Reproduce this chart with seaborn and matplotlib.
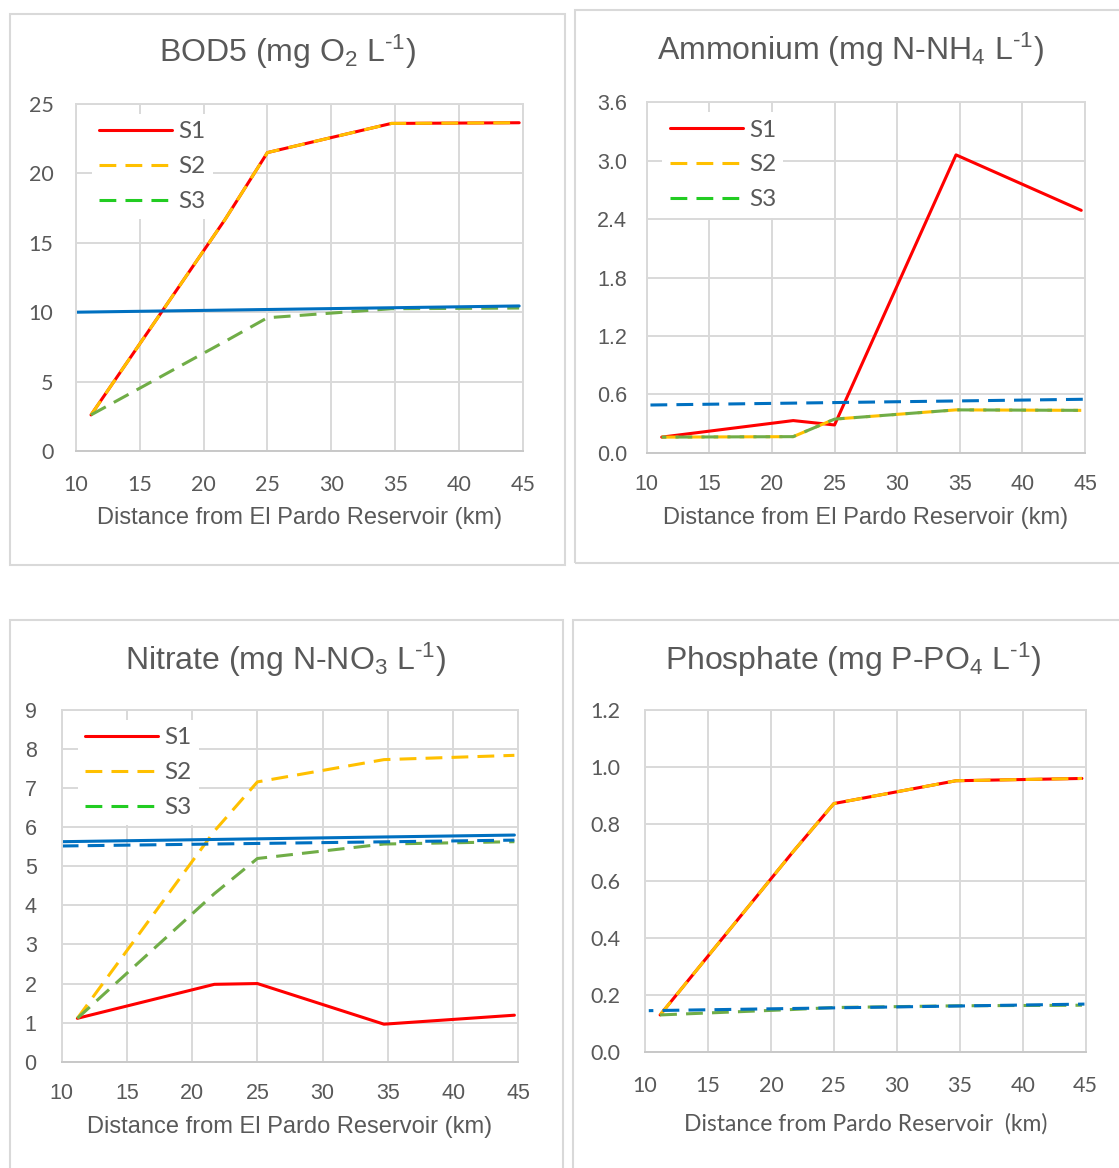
import matplotlib.pyplot as plt
import numpy as np
import pandas as pd
import seaborn as sns
from matplotlib.lines import Line2D
from matplotlib.patches import Rectangle

# distance of the sampling points (km)
dist_km = [11.2, 21.7, 25.0, 34.7, 44.7]

# BOD5 (mg O2/L)
bod_s1 = [2.6, 16.7, 21.5, 23.6, 23.65]
bod_s2 = [2.6, 16.7, 21.5, 23.6, 23.65]
bod_s3 = [2.6, 7.9, 9.6, 10.25, 10.3]
bod_lim_x = [10.0, 44.7]
bod_lim = [10.0, 10.45]

# Ammonium (mg N-NH4/L)
nh4_s1 = [0.16, 0.33, 0.285, 3.06, 2.49]
nh4_s2 = [0.16, 0.165, 0.345, 0.44, 0.435]
nh4_s3 = [0.16, 0.165, 0.345, 0.44, 0.435]
nh4_lim_x = [10.3, 45.5]
nh4_lim = [0.49, 0.55]

# Nitrate (mg N-NO3/L)
no3_s1 = [1.11, 1.98, 2.0, 0.96, 1.19]
no3_s2 = [1.11, 5.9, 7.16, 7.73, 7.84]
no3_s3 = [1.11, 4.3, 5.2, 5.57, 5.63]
no3_lim_x = [10.0, 44.7]
no3_lim_a = [5.63, 5.8]
no3_lim_b = [5.52, 5.67]

# Phosphate (mg P-PO4/L)
po4_s1 = [0.131, 0.70, 0.872, 0.952, 0.96]
po4_s2 = [0.131, 0.70, 0.872, 0.952, 0.96]
po4_s3 = [0.131, 0.15, 0.157, 0.163, 0.165]
po4_lim_x = [10.3, 44.9]
po4_lim = [0.146, 0.169]

x_ticks = [10, 15, 20, 25, 30, 35, 40, 45]
series_names = ["S1", "S2", "S3"]

RED = "#FF0000"
ORANGE = "#FFC000"
GREEN = "#70AD47"
GREEN_LEG = "#22CC22"
BLUE = "#0070C0"
GREY_TXT = "#595959"
GRID = "#D9D9D9"
DASH = (0, (5.5, 3))
DASH2 = (4, (5.5, 3))
LW = 2.2

sns.set_style("white")
plt.rcParams["mathtext.default"] = "regular"

W, H = 1119, 1168
fig = plt.figure(figsize=(W / 100, H / 100), dpi=100)


def px_rect(l, t, r, b):
    return [l / W, 1 - b / H, (r - l) / W, (b - t) / H]


# chart-area boxes like the Excel charts
for l, t, r, b in [(10, 14, 565, 565), (575, 10, 1130, 563),
                   (10, 620, 563, 1180), (573, 620, 1130, 1180)]:
    fig.add_artist(Rectangle((l / W, 1 - b / H), (r - l) / W, (b - t) / H,
                             transform=fig.transFigure, fill=False,
                             edgecolor=GRID, lw=1.5))


def style_axes(ax, ylim, yticks, yfmt, tick_font, xpad, ypad, xlabel,
               xlabel_font, labelpad, xlabel_size=17):
    ax.set_xlim(10, 45)
    ax.set_ylim(*ylim)
    ax.set_xticks(x_ticks, [str(t) for t in x_ticks], fontfamily=tick_font)
    ax.set_yticks(yticks, [yfmt.format(v) for v in yticks], fontfamily=tick_font)
    ax.tick_params(length=0, labelsize=15.5, labelcolor=GREY_TXT)
    ax.tick_params(axis="x", pad=xpad)
    ax.tick_params(axis="y", pad=ypad)
    ax.grid(True, color=GRID, lw=1.4)
    ax.set_axisbelow(True)
    for sp in ax.spines.values():
        sp.set_color(GRID)
        sp.set_linewidth(1.4)
    ax.spines["bottom"].set_color("#C8C8C8")
    ax.set_xlabel(xlabel, fontsize=xlabel_size, color=GREY_TXT,
                  family=xlabel_font, labelpad=labelpad)
    ax.set_ylabel("")


def add_legend(ax, axes_h):
    handles = [Line2D([], [], color=RED, lw=LW),
               Line2D([], [], color=ORANGE, lw=LW, ls=DASH),
               Line2D([], [], color=GREEN_LEG, lw=LW, ls=DASH)]
    leg = ax.legend(handles, series_names, loc="upper left",
                    bbox_to_anchor=(0.036, 1 - 10 / axes_h), borderaxespad=0,
                    frameon=True, facecolor="white", edgecolor="none",
                    framealpha=1, fancybox=False, handlelength=3.0,
                    handletextpad=0.25, labelspacing=0.57, borderpad=0.3,
                    prop={"family": "Lato", "size": 17.5})
    for t in leg.get_texts():
        t.set_color(GREY_TXT)


def line(ax, x, y, color, ls="-", clip=True):
    sns.lineplot(x=x, y=y, ax=ax, color=color, lw=LW, linestyle=ls,
                 legend=False, errorbar=None, clip_on=clip)


# ---- BOD5
ax1 = fig.add_axes(px_rect(75.7, 104, 523, 451))
line(ax1, dist_km, bod_s1, RED)
line(ax1, dist_km, bod_s2, ORANGE, DASH)
line(ax1, dist_km, bod_s3, GREEN, DASH)
line(ax1, bod_lim_x, bod_lim, BLUE)
style_axes(ax1, (0, 25), [0, 5, 10, 15, 20, 25], "{:d}", "Lato", 17, 16,
           "Distance from El Pardo Reservoir (km)", "Liberation Sans", 9)
add_legend(ax1, 347)

# ---- Ammonium
ax2 = fig.add_axes(px_rect(646.7, 102.3, 1085, 452.7))
line(ax2, dist_km, nh4_s1, RED)
line(ax2, dist_km, nh4_s2, ORANGE, DASH)
line(ax2, dist_km, nh4_s3, GREEN, DASH2)
line(ax2, nh4_lim_x, nh4_lim, BLUE, DASH, clip=False)
style_axes(ax2, (0, 3.6), [0, 0.6, 1.2, 1.8, 2.4, 3.0, 3.6], "{:.1f}",
           "Liberation Sans", 15, 14,
           "Distance from El Pardo Reservoir (km)", "Liberation Sans", 9)
add_legend(ax2, 350.4)

# ---- Nitrate
ax3 = fig.add_axes(px_rect(61.7, 710, 518.3, 1061.7))
line(ax3, dist_km, no3_s1, RED)
line(ax3, dist_km, no3_s2, ORANGE, DASH)
line(ax3, dist_km, no3_s3, GREEN, DASH)
line(ax3, no3_lim_x, no3_lim_a, BLUE)
line(ax3, no3_lim_x, no3_lim_b, BLUE, DASH)
style_axes(ax3, (0, 9), list(range(10)), "{:d}", "Liberation Sans", 15, 18,
           "Distance from El Pardo Reservoir (km)", "Liberation Sans", 9)
add_legend(ax3, 351.7)

# ---- Phosphate
ax4 = fig.add_axes(px_rect(645, 710, 1085.7, 1052.3))
line(ax4, dist_km, po4_s1, RED)
line(ax4, dist_km, po4_s2, ORANGE, DASH)
line(ax4, dist_km, po4_s3, GREEN, DASH)
line(ax4, po4_lim_x, po4_lim, BLUE, DASH2)
style_axes(ax4, (0, 1.2), [0, 0.2, 0.4, 0.6, 0.8, 1.0, 1.2], "{:.1f}",
           "Lato", 17, 18, "Distance from Pardo Reservoir  (km)", "Lato", 12,
           xlabel_size=16.5)

# titles, centred over each chart area
titles = [
    (288, 52, "BOD5 (mg O$_2$ L$^{\u20101}$)"),
    (850, 50, "Ammonium (mg N-NH$_4$ L$^{\u20101}$)"),
    (286, 660, "Nitrate (mg N-NO$_3$ L$^{\u20101}$)"),
    (853, 660, "Phosphate (mg P-PO$_4$ L$^{\u20101}$)"),
]
for x, y, s in titles:
    fig.text(x / W, 1 - y / H, s, ha="center", va="center", fontsize=23,
             color=GREY_TXT, family="Liberation Sans")

fig.savefig("out.png", dpi=100, facecolor="white")
